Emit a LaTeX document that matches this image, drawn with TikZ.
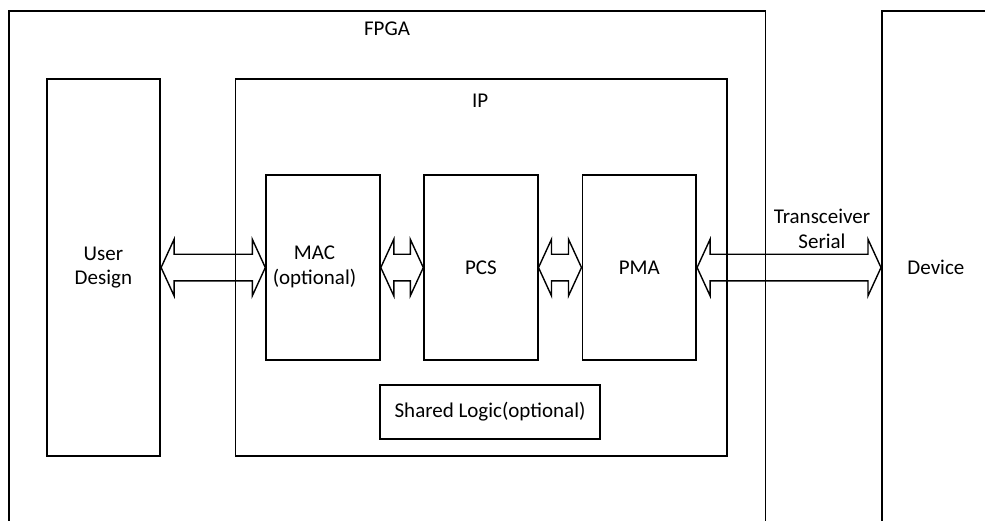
\documentclass[tikz,border=0pt]{standalone}
\usepackage{fontspec}
\setmainfont{Carlito}
\usetikzlibrary{calc}

% hollow two-headed block arrow between the east side of #1 and the west side of #2
\newcommand\blockarrow[2]{%
  \draw[barrow] let \p1=(#1.east), \p2=(#2.west) in
    (\x1,\y1) -- (\x1+13pt,\y1+28.3pt) -- (\x1+13pt,\y1+13.3pt)
    -- (\x2-13pt,\y1+13.3pt) -- (\x2-13pt,\y1+28.3pt) -- (\x2,\y1)
    -- (\x2-13pt,\y1-28.3pt) -- (\x2-13pt,\y1-13.3pt)
    -- (\x1+13pt,\y1-13.3pt) -- (\x1+13pt,\y1-28.3pt) -- cycle;}

\begin{document}
\begin{tikzpicture}[x=1pt,y=-1pt,
  font=\fontsize{21}{24.5}\selectfont,
  box/.style={draw, line width=1.8pt, inner sep=0pt, anchor=north west, align=center},
  barrow/.style={draw, line width=1.4pt, line join=miter},
  lbl/.style={inner sep=0pt, align=center}]
\useasboundingbox (0,0) rectangle (985,520);
\clip (0,0) rectangle (985,520);

% outer frames (open towards the page edges)
\node[box, minimum width=756.5pt, minimum height=540pt] (fpga) at (8,10) {};
\node[lbl] (fpgalbl) at (387,29) {FPGA};
\node[box, minimum width=108pt, minimum height=513.4pt] (dev) at (881,10) {Device};

% IP core and its blocks
\node[box, minimum width=491.5pt, minimum height=376.7pt] (ip) at (234.5,78.3) {};
\node[lbl] (iplbl) at (480.25,101) {IP};
\node[box, minimum width=113.6pt, minimum height=376.7pt] (ud) at (45.7,78.3) {User\\Design};
\node[box, minimum width=113.7pt, minimum height=185.3pt] (mac) at (265.3,174) {};
\node[lbl] (maclbl) at (314.5,266.7) {MAC\\(optional)};
\node[box, minimum width=113.4pt, minimum height=185.3pt] (pcs) at (423.3,174) {PCS};
\node[box, minimum width=113.8pt, minimum height=185.3pt] (pma) at (581.5,174) {PMA};
\node[box, minimum width=219.7pt, minimum height=53.7pt] (shared) at (379.3,384) {Shared Logic(optional)};

% data paths
\blockarrow{ud}{mac}
\blockarrow{mac}{pcs}
\blockarrow{pcs}{pma}
\blockarrow{pma}{dev}
\node[lbl] (serlbl) at (822,229) {Transceiver\\Serial};
\end{tikzpicture}
\end{document}
